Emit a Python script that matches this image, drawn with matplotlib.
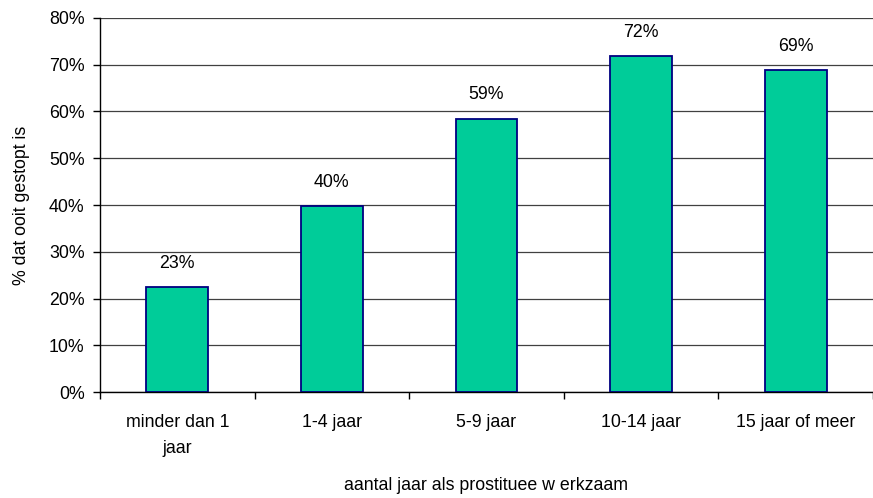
import matplotlib
matplotlib.use("Agg")
import matplotlib.pyplot as plt
import numpy as np

categories = ["minder dan 1\njaar", "1-4 jaar", "5-9 jaar", "10-14 jaar", "15 jaar of meer"]
values = [22.4, 39.8, 58.5, 71.8, 68.8]
value_labels = ["23%", "40%", "59%", "72%", "69%"]
yticks = [0, 10, 20, 30, 40, 50, 60, 70, 80]

plt.rcParams['font.family'] = ['Liberation Sans', 'DejaVu Sans']
FS = 12.8

fig = plt.figure(figsize=(8.73, 4.98), dpi=100)
ax = fig.add_axes([100/873, 106/498, 1 - 100/873, (392-18)/498])

x = np.arange(len(categories))
ax.bar(x, values, width=0.4, color="#00CC99", edgecolor="#000080", linewidth=1.3, zorder=3)
for xi, v, lab in zip(x, values, value_labels):
    ax.annotate(lab, (xi, v), xytext=(0, 11), textcoords="offset points",
                ha="center", va="bottom", fontsize=FS, color="black")

ax.set_ylim(0, 80)
ax.set_xlim(-0.5, 4.455)
ax.set_yticks(yticks)
ax.set_yticklabels([f"{t}%" for t in yticks], fontsize=FS)
ax.yaxis.grid(True, color="#404040", linewidth=0.9, zorder=0)
ax.set_axisbelow(True)

ax.set_xticks(np.arange(-0.5, len(categories), 1.0))
ax.set_xticklabels([])
ax.set_xticks(x, minor=True)
ax.set_xticklabels(categories, minor=True, fontsize=FS, linespacing=1.7)
ax.tick_params(axis="x", which="minor", length=0, pad=16)
ax.tick_params(axis="x", which="major", length=5, width=1, color="black")
ax.tick_params(axis="y", length=5, width=1, color="black", pad=6)

for s in ["top", "right"]:
    ax.spines[s].set_visible(False)
ax.spines["left"].set_color("black")
ax.spines["bottom"].set_color("black")
ax.spines["left"].set_linewidth(1)
ax.spines["bottom"].set_linewidth(1)

ax.set_ylabel("% dat ooit gestopt is", fontsize=FS, labelpad=14)
fig.text(0.5 + 50/873, 1 - 485/498, "aantal jaar als prostituee w erkzaam", ha="center", va="center", fontsize=FS)

fig.savefig("out.png", dpi=100)
